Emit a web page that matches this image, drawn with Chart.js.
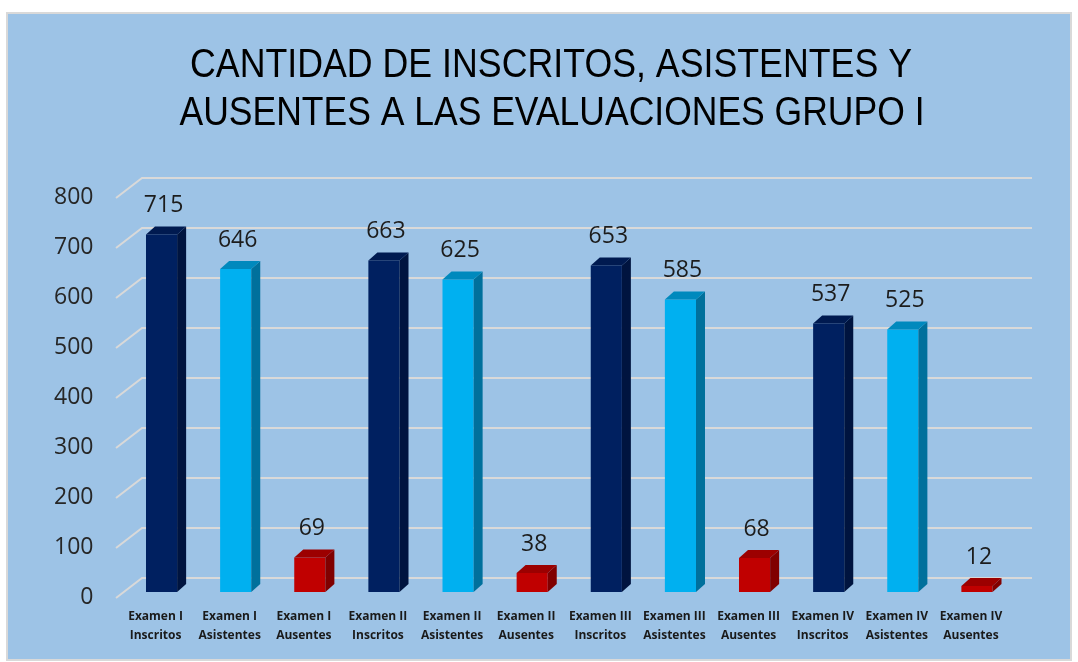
<!DOCTYPE html>
<html>
<head>
<meta charset="utf-8">
<script src="https://cdn.jsdelivr.net/npm/chart.js@4.4.0/dist/chart.umd.min.js"></script>
<style>
  html, body { margin: 0; padding: 0; background: #ffffff; }
  canvas { display: block; }
</style>
</head>
<body>
<canvas id="chart" width="1078" height="662"></canvas>
<script>
// data
const exams = ['I', 'II', 'III', 'IV'];
const groups = ['Inscritos', 'Asistentes', 'Ausentes'];
const inscritos = [715, 663, 653, 537];
const asistentes = [646, 625, 585, 525];
const ausentes = [69, 38, 68, 12];
const titleLines = ['CANTIDAD DE INSCRITOS, ASISTENTES Y', 'AUSENTES A LAS EVALUACIONES GRUPO I'];

// front / side / top colours per group
const front = ['#002060', '#00b0f0', '#c00000'];
const side = ['#00143f', '#00709c', '#800000'];
const top_ = ['#001a50', '#0089bd', '#9c0000'];

const labels = [];
const values = [];
const groupIdx = [];
exams.forEach((ex, i) => {
    [inscritos, asistentes, ausentes].forEach((arr, g) => {
        labels.push(['Examen ' + ex, groups[g]]);
        values.push(arr[i]);
        groupIdx.push(g);
    });
});

const DX = 9, DY = 8;

const bars3d = {
    id: 'bars3d',
    beforeDraw(chart) {
        const ctx = chart.ctx;
        ctx.save();
        ctx.fillStyle = '#9dc3e6';
        ctx.fillRect(7, 13, 1064, 647);
        ctx.strokeStyle = '#d9d9d9';
        ctx.lineWidth = 2;
        ctx.strokeRect(7, 13, 1064, 647);

        // title, squeezed to the width it has in the picture
        ctx.fillStyle = '#000000';
        ctx.font = '41px "Liberation Sans", Arial, sans-serif';
        ctx.textBaseline = 'alphabetic';
        ctx.textAlign = 'center';
        const spots = [{ cx: 551, base: 77, w: 722 }, { cx: 552, base: 125, w: 745 }];
        titleLines.forEach((t, i) => {
            const s = spots[i];
            const m = ctx.measureText(t).width;
            ctx.save();
            ctx.translate(s.cx, s.base);
            ctx.scale(s.w / m, 1);
            ctx.fillText(t, 0, 0);
            ctx.restore();
        });
        ctx.restore();
    },
    beforeDatasetsDraw(chart) {
        // back wall grid with the slanted floor edge on the left
        const ctx = chart.ctx;
        const y = chart.scales.y;
        const a = chart.chartArea;
        ctx.save();
        ctx.strokeStyle = '#d9d9d9';
        ctx.lineWidth = 2;
        for (let v = 0; v <= 800; v += 100) {
            const yf = y.getPixelForValue(v);
            ctx.beginPath();
            ctx.moveTo(a.left - 8.5, yf + 6);
            ctx.lineTo(a.left + 17.5, yf - 14);
            ctx.lineTo(1032, yf - 14);
            ctx.stroke();
        }
        ctx.restore();
    },
    afterDatasetsDraw(chart) {
        const ctx = chart.ctx;
        const meta = chart.getDatasetMeta(0);
        ctx.save();
        meta.data.forEach((bar, i) => {
            const g = groupIdx[i];
            const p = bar.getProps(['x', 'y', 'base', 'width'], true);
            const l = p.x - p.width / 2, r = p.x + p.width / 2;
            // side
            ctx.fillStyle = side[g];
            ctx.beginPath();
            ctx.moveTo(r, p.y);
            ctx.lineTo(r + DX, p.y - DY);
            ctx.lineTo(r + DX, p.base - DY);
            ctx.lineTo(r, p.base);
            ctx.closePath();
            ctx.fill();
            // top
            ctx.fillStyle = top_[g];
            ctx.beginPath();
            ctx.moveTo(l, p.y);
            ctx.lineTo(l + DX, p.y - DY);
            ctx.lineTo(r + DX, p.y - DY);
            ctx.lineTo(r, p.y);
            ctx.closePath();
            ctx.fill();
            // value label
            ctx.fillStyle = '#1c1c1c';
            ctx.font = '23px "Open Sans", sans-serif';
            ctx.textAlign = 'center';
            ctx.textBaseline = 'middle';
            ctx.fillText(String(values[i]), p.x + 2, p.y - 29);
        });
        ctx.restore();
    }
};

new Chart(document.getElementById('chart'), {
    type: 'bar',
    data: {
        labels: labels,
        datasets: [{
            data: values,
            backgroundColor: groupIdx.map(g => front[g]),
            borderWidth: 0,
            categoryPercentage: 1,
            barPercentage: 0.42
        }]
    },
    options: {
        responsive: false,
        animation: false,
        layout: { padding: { top: 192, right: 64, left: 0, bottom: 0 } },
        plugins: {
            legend: { display: false },
            tooltip: { enabled: false },
            title: { display: false }
        },
        scales: {
            x: {
                grid: { display: false, drawTicks: false },
                border: { display: false },
                ticks: {
                    color: '#1a1a1a',
                    font: { family: '"Open Sans", sans-serif', size: 12, weight: 'bold', lineHeight: 1.6 },
                    padding: 15,
                    labelOffset: -6,
                    maxRotation: 0,
                    autoSkip: false
                },
                afterFit(scale) { scale.height = 70; }
            },
            y: {
                min: 0,
                max: 800,
                grid: { display: false, drawTicks: false },
                border: { display: false },
                ticks: {
                    stepSize: 100,
                    color: '#262626',
                    font: { family: '"Open Sans", sans-serif', size: 23 },
                    padding: 31,
                    labelOffset: 5
                },
                afterFit(scale) { scale.width = 124.5; }
            }
        }
    },
    plugins: [bars3d]
});
</script>
</body>
</html>
